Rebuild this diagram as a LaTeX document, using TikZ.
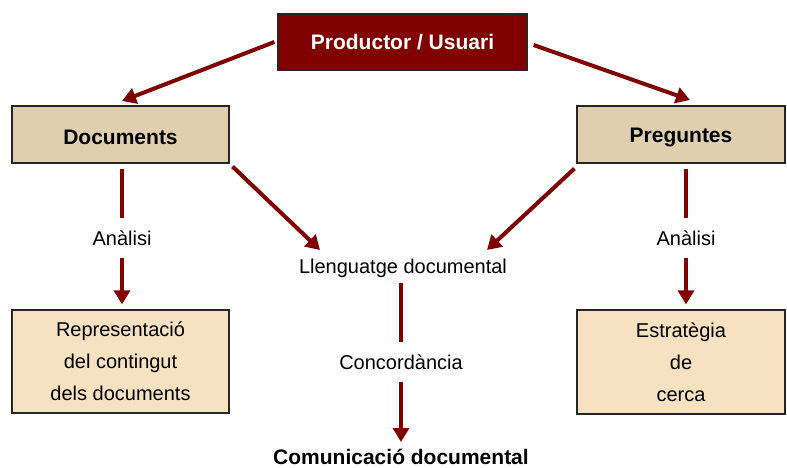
\documentclass[tikz,border=0pt]{standalone}
\usepackage{fontspec}
\setmainfont{Liberation Sans}
\usetikzlibrary{arrows.meta}
\definecolor{arrowred}{RGB}{128,0,0}
\definecolor{prodfill}{RGB}{128,0,0}
\definecolor{tanfill}{RGB}{224,207,175}
\definecolor{lightfill}{RGB}{246,225,192}
\newcommand{\lowertext}[1]{\raisebox{-3pt}[\height][\depth]{#1}}
\begin{document}
\begin{tikzpicture}[x=1pt,y=-1pt,
  box/.style={draw=black!85, line width=1.2pt, inner sep=0pt, align=center},
  headbox/.style={box, fill=tanfill, font=\fontsize{21}{24}\bfseries\selectfont},
  leafbox/.style={box, fill=lightfill, font=\fontsize{20}{32}\selectfont},
  lbl/.style={inner sep=0pt, font=\fontsize{20}{24}\selectfont},
  link/.style={draw=arrowred, line width=4pt},
  arr/.style={link, -{Triangle[width=16pt,length=14pt]}},
]
\useasboundingbox (0,0) rectangle (787,468);

% top box
\node[box, fill=prodfill, text=white, font=\fontsize{21}{24}\bfseries\selectfont,
      minimum width=249pt, minimum height=56pt] (prod) at (402.5,42) {Productor / Usuari};

% second row
\node[headbox, minimum width=217pt, minimum height=57pt] (docs) at (120.5,134.5) {\lowertext{Documents}};
\node[headbox, minimum width=208pt, minimum height=57pt] (preg) at (681,134.5) {\lowertext{Preguntes}};

% bottom boxes
\node[leafbox, minimum width=217pt, minimum height=103pt] (rep) at (120.5,361.5)
  {Representació\\del contingut\\dels documents};
\node[leafbox, minimum width=208pt, minimum height=104pt] (estr) at (681,362)
  {Estratègia\\de\\cerca};

% free labels
\node[lbl, minimum height=40pt] (an1) at (122,238) {Anàlisi};
\node[lbl, minimum height=40pt] (an2) at (686,238) {Anàlisi};
\node[lbl, minimum height=30pt] (llen) at (403,268) {Llenguatge documental};
\node[lbl, minimum height=39pt] (conc) at (401,362) {Concordància};
\node[lbl, font=\fontsize{21}{24}\bfseries\selectfont] (com) at (401,457) {Comunicació documental};

% arrow end points
\coordinate (tdocs) at (122,101);
\coordinate (tpreg) at (690,100);
\coordinate (tl1) at (320,250);
\coordinate (tl2) at (487,250);
\coordinate (tcom) at (401,442);

% connectors
\draw[arr] ([xshift=-3pt]prod.west) -- (tdocs);
\draw[arr] ([xshift=6pt,yshift=-3pt]prod.east) -- (tpreg);
\draw[arr] ([xshift=3pt,yshift=-3pt]docs.south east) -- (tl1);
\draw[arr] ([xshift=-2pt,yshift=-5pt]preg.south west) -- (tl2);

\draw[link] ([yshift=-5pt]an1 |- docs.south) -- (an1.north);
\draw[arr] (an1.south) -- ([yshift=5pt]an1 |- rep.north);
\draw[link] ([yshift=-5pt]an2 |- preg.south) -- (an2.north);
\draw[arr] (an2.south) -- ([yshift=5pt]an2 |- estr.north);

\draw[link] (conc |- llen.south) -- (conc.north);
\draw[arr] (conc.south) -- (tcom);
\end{tikzpicture}
\end{document}
